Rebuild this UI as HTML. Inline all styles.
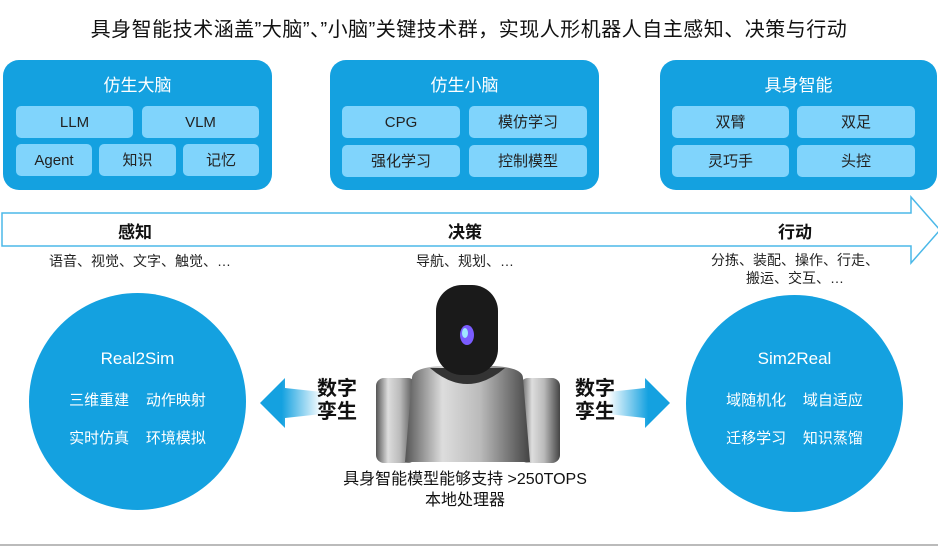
<!DOCTYPE html>
<html><head><meta charset="utf-8"><style>
*{margin:0;padding:0;box-sizing:border-box}
body{width:938px;height:547px;background:#fff;position:relative;overflow:hidden;font-family:"Liberation Sans","Noto Sans CJK SC",sans-serif;color:#222}
.a{position:absolute}
.box{position:absolute;background:#14a1e0;border-radius:16px;top:60px;height:130px}
.box .t{position:absolute;left:0;right:0;top:11px;text-align:center;color:#fff;font-size:17px}
.p{position:absolute;background:#80d4fc;border-radius:5px;height:32px;line-height:34px;text-align:center;font-size:15px;color:#222}
.c{position:absolute;background:#14a1e0;border-radius:50%;color:#fff;text-align:center}
.lbl{position:absolute;font-size:14px;color:#222;text-align:center}
</style></head><body>
<div class="a" style="left:0;width:938px;top:13px;text-align:center;font-size:20px;letter-spacing:0.5px;color:#111">具身智能技术涵盖”大脑”、”小脑”关键技术群，实现人形机器人自主感知、决策与行动</div>

<div class="box" style="left:3px;width:269px"><div class="t">仿生大脑</div>
<div class="p" style="left:13px;top:46px;width:117px">LLM</div>
<div class="p" style="left:139px;top:46px;width:117px">VLM</div>
<div class="p" style="left:13px;top:84px;width:76px">Agent</div>
<div class="p" style="left:96px;top:84px;width:77px">知识</div>
<div class="p" style="left:180px;top:84px;width:76px">记忆</div>
</div>
<div class="box" style="left:330px;width:269px"><div class="t">仿生小脑</div>
<div class="p" style="left:12px;top:46px;width:118px">CPG</div>
<div class="p" style="left:139px;top:46px;width:118px">模仿学习</div>
<div class="p" style="left:12px;top:85px;width:118px">强化学习</div>
<div class="p" style="left:139px;top:85px;width:118px">控制模型</div>
</div>
<div class="box" style="left:660px;width:277px"><div class="t">具身智能</div>
<div class="p" style="left:12px;top:46px;width:117px">双臂</div>
<div class="p" style="left:137px;top:46px;width:118px">双足</div>
<div class="p" style="left:12px;top:85px;width:117px">灵巧手</div>
<div class="p" style="left:137px;top:85px;width:118px">头控</div>
</div>

<svg class="a" style="left:0;top:0" width="938" height="547">
<polygon points="2,213 911,213 911,197 940,230 911,263 911,246 2,246" fill="#fff" stroke="#4bb8e8" stroke-width="1.5"/>
<defs>
<linearGradient id="gl" x1="0" x2="1"><stop offset="0.35" stop-color="#14a1e0"/><stop offset="1" stop-color="#fff"/></linearGradient>
<linearGradient id="gr" x1="1" x2="0"><stop offset="0.35" stop-color="#14a1e0"/><stop offset="1" stop-color="#fff"/></linearGradient>
<linearGradient id="body" x1="0" x2="1"><stop offset="0" stop-color="#555"/><stop offset="0.3" stop-color="#ddd"/><stop offset="0.6" stop-color="#bbb"/><stop offset="1" stop-color="#444"/></linearGradient>
</defs>
<polygon points="260,403 285,378 285,388 322,392 322,414 285,418 285,428" fill="url(#gl)"/>
<polygon points="670,403 645,378 645,388 608,392 608,414 645,418 645,428" fill="url(#gr)"/>
<line x1="0" y1="545" x2="938" y2="545" stroke="#bbb" stroke-width="2"/>
<rect x="376" y="378" width="40" height="85" rx="8" fill="url(#body)"/>
<rect x="520" y="378" width="40" height="85" rx="8" fill="url(#body)"/>
<path d="M412,378 Q412,368 440,366 L495,366 Q523,368 523,378 L530,462 L405,462 Z" fill="url(#body)"/>
<path d="M430,368 Q467,400 505,368 Z" fill="#333"/>
<rect x="436" y="285" width="62" height="90" rx="26" fill="#1a1a1a"/>
<ellipse cx="467" cy="335" rx="7" ry="10" fill="#7a5cff"/>
<ellipse cx="465" cy="333" rx="3" ry="5" fill="#9fe6ff"/>
</svg>

<div class="a" style="left:95px;width:80px;top:218px;text-align:center;font-size:17px;font-weight:bold;color:#111">感知</div>
<div class="a" style="left:425px;width:80px;top:218px;text-align:center;font-size:17px;font-weight:bold;color:#111">决策</div>
<div class="a" style="left:755px;width:80px;top:218px;text-align:center;font-size:17px;font-weight:bold;color:#111">行动</div>
<div class="lbl" style="left:20px;width:240px;top:251px">语音、视觉、文字、触觉、…</div>
<div class="lbl" style="left:385px;width:160px;top:251px">导航、规划、…</div>
<div class="lbl" style="left:690px;width:210px;top:251px;line-height:18px">分拣、装配、操作、行走、<br>搬运、交互、…</div>

<div class="c" style="left:29px;top:293px;width:217px;height:217px">
<div style="margin-top:56px;font-size:17px">Real2Sim</div>
<div style="margin-top:20px;font-size:15px">三维重建&nbsp;&nbsp;&nbsp;&nbsp;动作映射</div>
<div style="margin-top:17px;font-size:15px">实时仿真&nbsp;&nbsp;&nbsp;&nbsp;环境模拟</div>
</div>
<div class="c" style="left:686px;top:295px;width:217px;height:217px">
<div style="margin-top:54px;font-size:17px">Sim2Real</div>
<div style="margin-top:20px;font-size:15px">域随机化&nbsp;&nbsp;&nbsp;&nbsp;域自适应</div>
<div style="margin-top:17px;font-size:15px">迁移学习&nbsp;&nbsp;&nbsp;&nbsp;知识蒸馏</div>
</div>

<div class="a" style="left:317px;top:378px;font-size:20px;font-weight:bold;line-height:23px;color:#111">数字<br>孪生</div>
<div class="a" style="left:575px;top:378px;font-size:20px;font-weight:bold;line-height:23px;color:#111">数字<br>孪生</div>
<div class="a" style="left:300px;width:330px;top:469px;text-align:center;font-size:16px;line-height:21px;color:#111">具身智能模型能够支持 &gt;250TOPS<br>本地处理器</div>
</body></html>
